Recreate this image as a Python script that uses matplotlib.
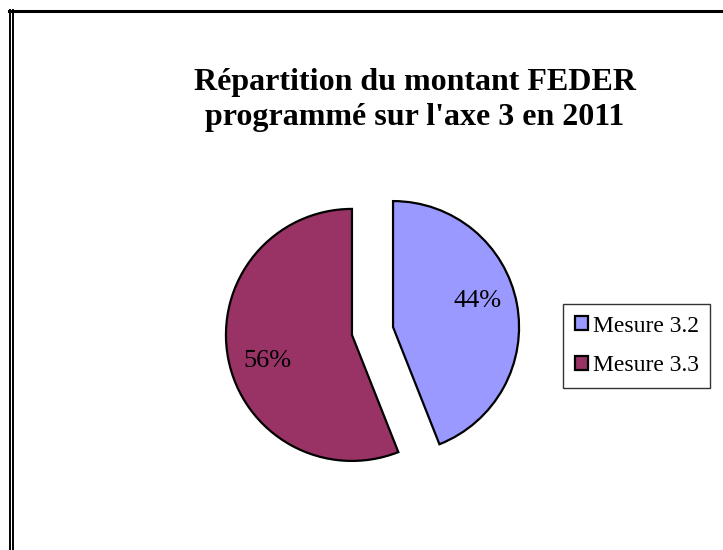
import numpy as np
import matplotlib.pyplot as plt
from matplotlib.lines import Line2D

# Données
mesures = ["Mesure 3.2", "Mesure 3.3"]
parts = [44, 56]
couleurs = ["#9999FF", "#993366"]
ecart = [0.166, 0.166]

W, H = 723, 550
fig = plt.figure(figsize=(W / 100, H / 100), dpi=100)
plt.rcParams['font.family'] = ['Liberation Serif', 'DejaVu Serif']

# Cadre (double trait à gauche)
def px(x, y):
    return x / W, 1 - y / H

for x0 in (9.5, 12.5):
    fig.add_artist(Line2D([px(x0, 0)[0]] * 2, [px(0, 10)[1], 0], color="black", lw=1.4))
fig.add_artist(Line2D([px(8.5, 0)[0], 1], [px(0, 11)[1]] * 2, color="black", lw=2.2))

# Camembert
r = 126
cx, cy = 372.5, 331
taille = 2.6 * r
ax = fig.add_axes([(cx - taille / 2) / W, (H - cy - taille / 2) / H, taille / W, taille / H])
wedges, textes, pct = ax.pie(parts, colors=couleurs, explode=ecart, startangle=90,
                             counterclock=False, autopct="%d%%", pctdistance=0.7,
                             wedgeprops=dict(edgecolor="black", linewidth=1.6))
# étiquettes un peu tournées comme dans l'original
for w, t in zip(wedges, pct):
    a = np.deg2rad((w.theta1 + w.theta2) / 2 + 6.5)
    t.set_position((w.center[0] + 0.7 * np.cos(a), w.center[1] + 0.7 * np.sin(a)))
    t.set_fontsize(19)
    t.set_color("black")
ax.set_xlim(-1.3, 1.3)
ax.set_ylim(-1.3, 1.3)
ax.set_aspect("equal")
ax.axis("off")

fig.text(415 / W, 1 - 100 / H, "Répartition du montant FEDER\nprogrammé sur l'axe 3 en 2011",
         ha="center", va="center", fontsize=23, fontweight="bold", linespacing=1.23)

leg = fig.legend(wedges, mesures, loc="center left", bbox_to_anchor=(563 / W, 1 - 346 / H),
                 fontsize=17, frameon=True, fancybox=False, edgecolor="black",
                 handlelength=0.55, handleheight=0.55, handletextpad=0.2,
                 labelspacing=0.8, borderpad=0.5, borderaxespad=0)
leg.get_frame().set_linewidth(1.0)

fig.savefig("out.png", dpi=100)
